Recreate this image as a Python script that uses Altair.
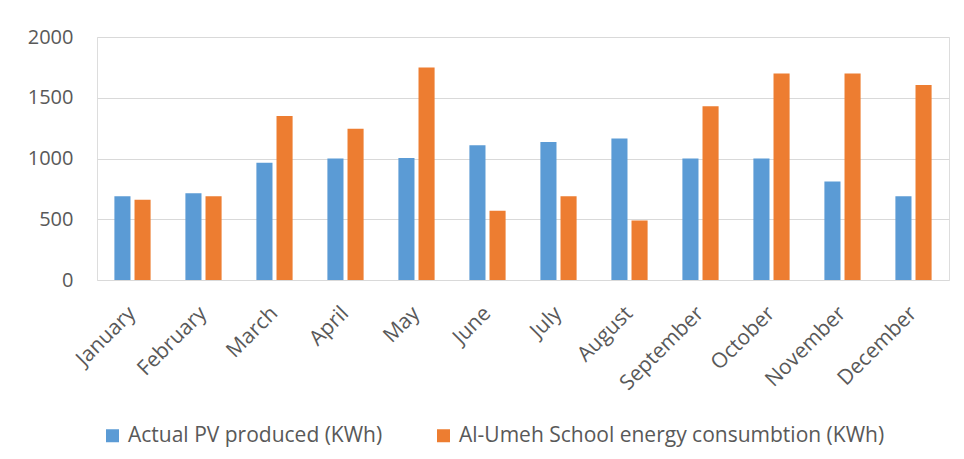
import altair as alt
import pandas as pd

months = ["January", "February", "March", "April", "May", "June", "July",
          "August", "September", "October", "November", "December"]
pv = [690, 715, 965, 1000, 1005, 1110, 1135, 1165, 1000, 1000, 810, 690]
cons = [660, 690, 1350, 1245, 1750, 570, 690, 490, 1430, 1700, 1700, 1605]
series = ["Actual PV produced (KWh)", "Al-Umeh School energy consumbtion (KWh)"]
colors = ["#5B9BD5", "#ED7D31"]
y_ticks = [0, 500, 1000, 1500, 2000]

rows = []
for m, a, b in zip(months, pv, cons):
    rows.append({"month": m, "series": series[0], "value": a})
    rows.append({"month": m, "series": series[1], "value": b})
df = pd.DataFrame(rows)

FONT = "Open Sans"
GRAY = "#595959"

bars = alt.Chart(df).mark_bar().encode(
    x=alt.X("month:N", sort=months,
            scale=alt.Scale(paddingInner=0.49, paddingOuter=0.245),
            axis=alt.Axis(title=None, labelAngle=-45, labelAlign="right",
                          labelBaseline="middle", labelPadding=30,
                          labelFontSize=21, labelColor=GRAY, labelFont=FONT,
                          domain=False, ticks=False, grid=False)),
    xOffset=alt.XOffset("series:N", sort=series,
                        scale=alt.Scale(paddingInner=0.2, paddingOuter=0)),
    y=alt.Y("value:Q", scale=alt.Scale(domain=[0, 2000], nice=False),
            axis=alt.Axis(title=None, values=y_ticks, format="d", domain=False,
                          ticks=False, labelPadding=24, labelFontSize=20,
                          labelFont=FONT, labelColor=GRAY, grid=True,
                          gridColor="#d9d9d9", gridWidth=1.2)),
    color=alt.Color("series:N", sort=series,
                    scale=alt.Scale(domain=series, range=colors),
                    legend=alt.Legend(title=None, orient="none", direction="horizontal",
                                      legendX=5, legendY=388, symbolType="square",
                                      symbolSize=169, symbolStrokeWidth=0,
                                      labelFontSize=21, labelFont=FONT,
                                      labelColor=GRAY, columnPadding=50,
                                      labelOffset=5, labelLimit=0)),
)

chart = bars.properties(
    width=852, height=243,
    autosize=alt.AutoSizeParams(type="none"),
    padding={"left": 89, "top": 29, "right": 5, "bottom": 168},
).configure_view(stroke=None).configure(font=FONT)

chart.save("out.html", embed_options={"renderer": "svg", "actions": False})
